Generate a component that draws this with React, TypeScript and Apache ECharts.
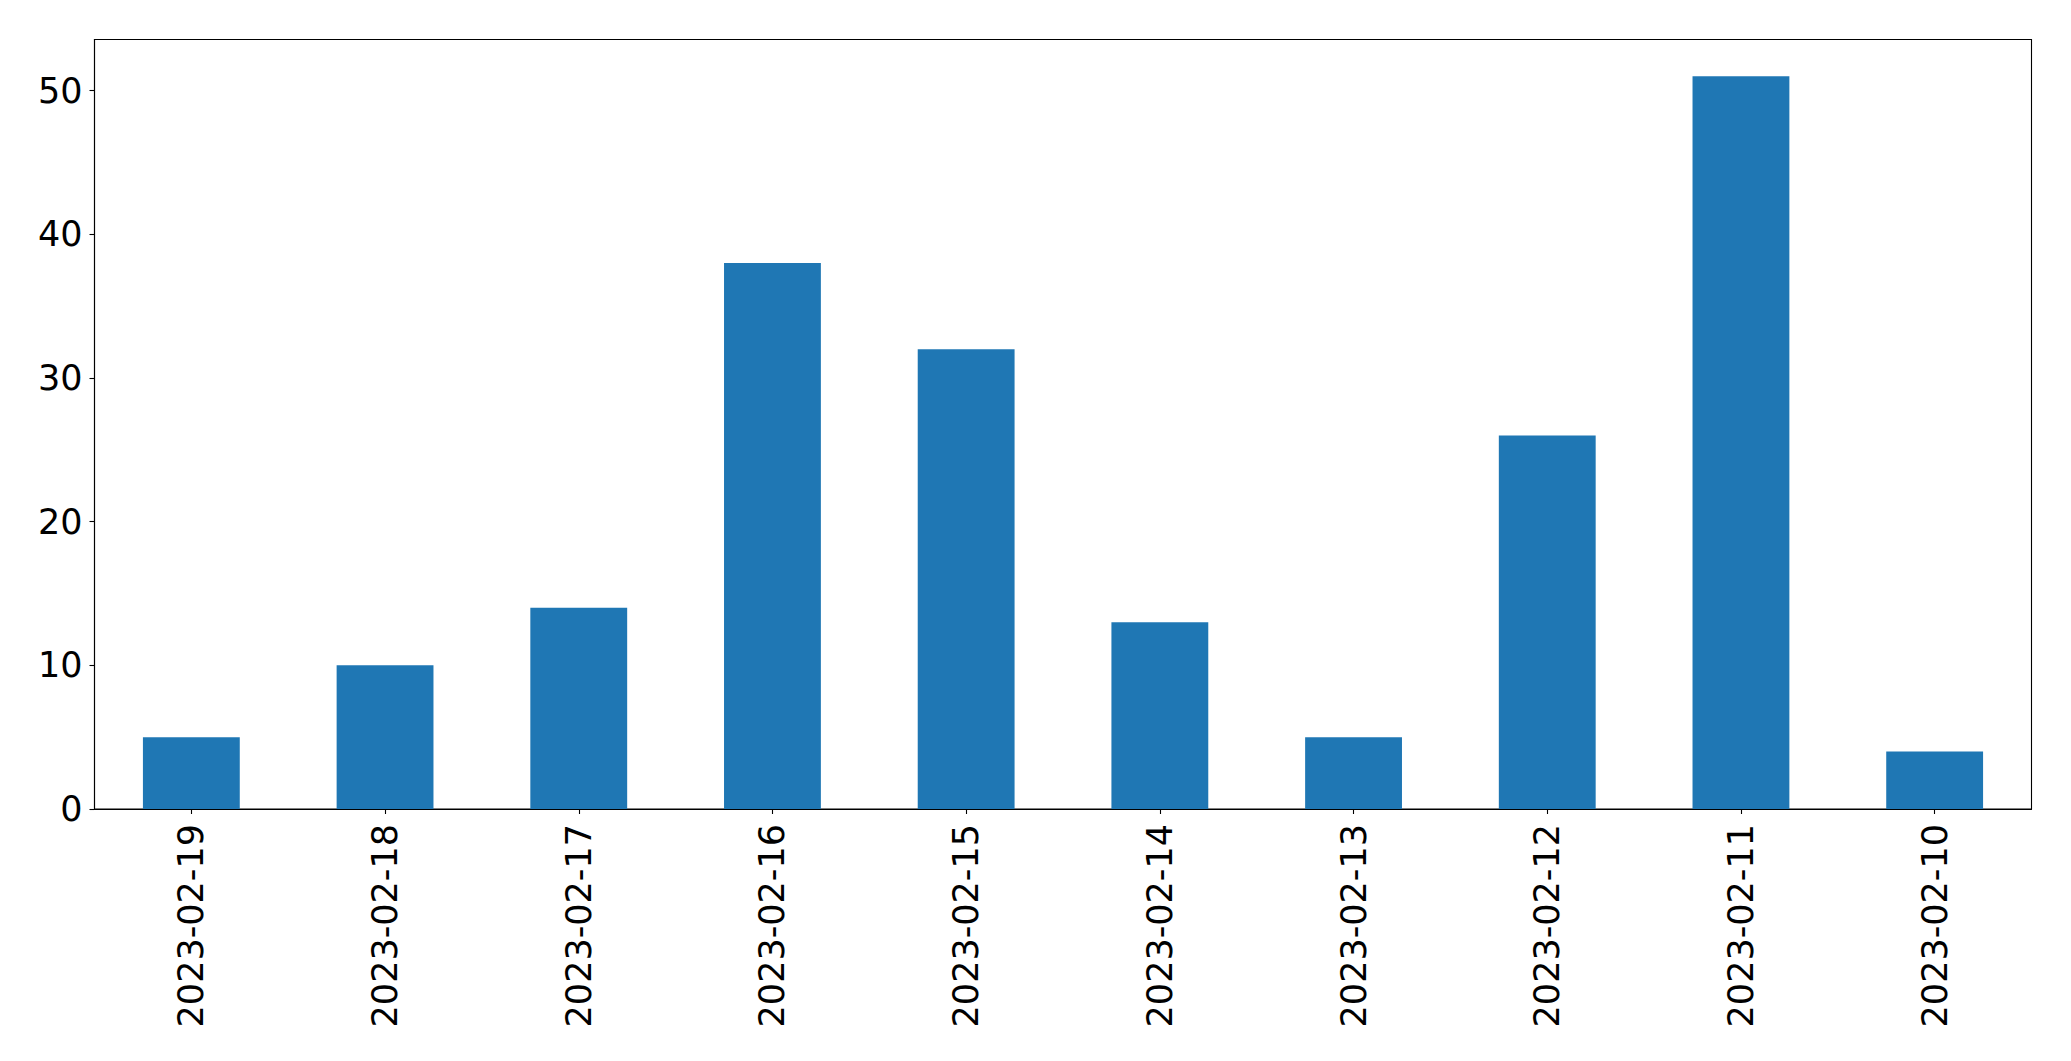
import React, { useEffect, useRef } from "react";
import * as echarts from "echarts";

const categories = [
  "2023-02-19",
  "2023-02-18",
  "2023-02-17",
  "2023-02-16",
  "2023-02-15",
  "2023-02-14",
  "2023-02-13",
  "2023-02-12",
  "2023-02-11",
  "2023-02-10",
];
const counts = [5, 10, 14, 38, 32, 13, 5, 26, 51, 4];
const yTicks = [0, 10, 20, 30, 40, 50];

export default function App() {
  const ref = useRef<HTMLDivElement>(null);
  useEffect(() => {
    if (!ref.current) return;
    const chart = echarts.init(ref.current, undefined, { renderer: "svg" });
    const maxVal = Math.max(...counts) * 1.05;
    const font = "DejaVu Sans";
    chart.setOption({
      animation: false,
      backgroundColor: "#ffffff",
      grid: {
        left: 94.5,
        right: 39.5,
        top: 39.5,
        bottom: 252,
        show: true,
        borderColor: "#000",
        borderWidth: 1.1,
        backgroundColor: "transparent",
      },
      xAxis: {
        type: "category",
        data: categories,
        boundaryGap: true,
        axisLine: { show: true, lineStyle: { color: "#000", width: 1.1 } },
        axisTick: {
          show: true,
          alignWithLabel: true,
          length: 5,
          lineStyle: { color: "#000", width: 1.1 },
        },
        axisLabel: {
          rotate: 90,
          fontSize: 35,
          fontFamily: font,
          color: "#000",
          margin: 15,
          interval: 0,
        },
        splitLine: { show: false },
      },
      yAxis: {
        type: "value",
        min: 0,
        max: maxVal,
        interval: 10,
        axisLine: { show: true, lineStyle: { color: "#000", width: 1.1 } },
        axisTick: {
          show: true,
          length: 5,
          customValues: yTicks,
          lineStyle: { color: "#000", width: 1.1 },
        },
        axisLabel: {
          fontSize: 35,
          fontFamily: font,
          color: "#000",
          margin: 12,
          customValues: yTicks,
        },
        splitLine: { show: false },
      },
      series: [
        {
          type: "bar",
          data: counts,
          barWidth: "50%",
          itemStyle: { color: "#1f77b4" },
        },
      ],
    });
    return () => chart.dispose();
  }, []);
  return (
    <div
      ref={ref}
      style={{ position: "fixed", left: 0, top: 0, width: 2071, height: 1061 }}
    />
  );
}
